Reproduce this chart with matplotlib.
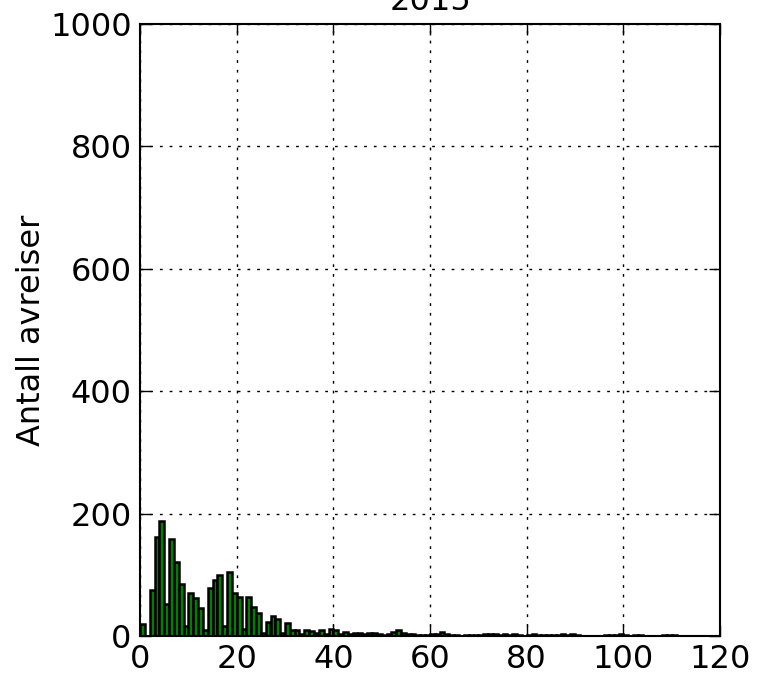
import numpy as np
import matplotlib
matplotlib.use("Agg")
import matplotlib.pyplot as plt

# antall avreiser per dag (histogram, binbredde 1)
bin_start = 0
bin_bredde = 1.0
antall = [
    20, 0, 75, 161, 188, 52, 158, 121, 85, 16,
    70, 62, 45, 10, 79, 92, 99, 16, 104, 71,
    64, 12, 64, 47, 38, 5, 23, 33, 28, 5,
    22, 10, 10, 3, 9, 8, 5, 9, 4, 11,
    10, 3, 7, 3, 5, 5, 3, 5, 5, 3,
    2, 3, 7, 10, 5, 4, 4, 2, 2, 1,
    3, 3, 6, 3, 1, 1, 0, 1, 2, 1,
    1, 3, 4, 3, 2, 3, 1, 3, 1, 0,
    1, 3, 2, 2, 1, 2, 1, 3, 2, 3,
    1, 0, 0, 0, 0, 0, 2, 1, 2, 3,
    1, 0, 2, 1, 0, 0, 0, 0, 2, 2, 1,
]
tittel = "2015"
ylabel = "Antall avreiser"
xticks = [0, 20, 40, 60, 80, 100, 120]
yticks = [0, 200, 400, 600, 800, 1000]

fs = 23

fig = plt.figure(figsize=(7.62, 6.79), dpi=100)
ax = fig.add_axes([140 / 762, 1 - 636 / 679, 580 / 762, 612 / 679])

kanter = bin_start + bin_bredde * np.arange(len(antall) + 1)
ax.hist(kanter[:-1], bins=kanter, weights=antall, color="green",
        edgecolor="black", linewidth=1.8, zorder=2)

ax.set_xlim(0, 120)
ax.set_ylim(0, 1000)
ax.set_xticks(xticks)
ax.set_yticks(yticks)
ax.grid(True, color="black", linestyle=(0, (2, 5)), linewidth=1)
ax.set_axisbelow(True)

ax.tick_params(direction="in", top=True, right=True, length=8, width=1,
               labelsize=fs, pad=6)
for s in ax.spines.values():
    s.set_linewidth(1.5)

ax.set_title(tittel, fontsize=fs, pad=10)
ax.set_ylabel(ylabel, fontsize=fs, labelpad=2)

fig.savefig("out.png", dpi=100, facecolor="white")
